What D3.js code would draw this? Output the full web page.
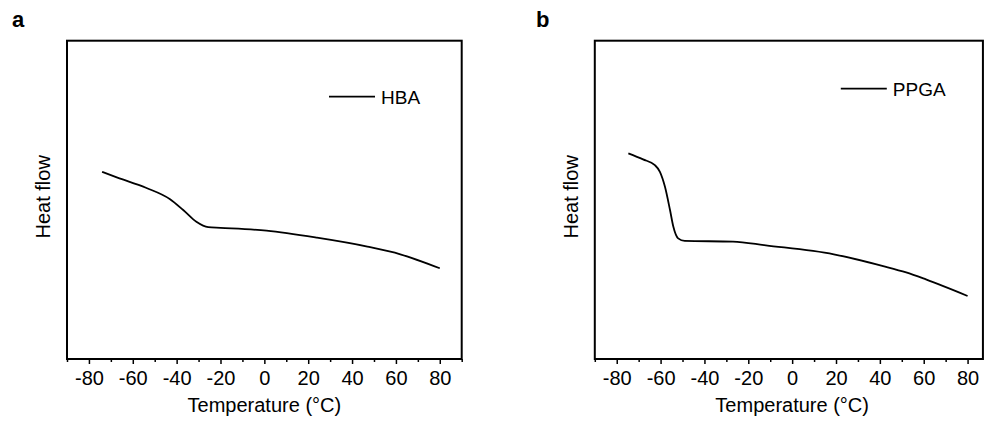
<!DOCTYPE html>
<html>
<head>
<meta charset="utf-8">
<script src="https://cdn.jsdelivr.net/npm/d3@7"></script>
<style>
  body { margin: 0; background: #fff; overflow: hidden; }
  svg { display: block; }
  svg text { font-family: "Liberation Sans", Arial, sans-serif; fill: #000; }
</style>
</head>
<body>
<div class="chart"></div>
<script>
// DSC traces (heat flow in arbitrary units)
var tempHBA = [-74, -67, -54, -43, -37, -31, -25.6, -20, 1, 24, 47, 62, 80];
var heatHBA = [58.8, 57.0, 53.8, 50.2, 46.8, 43.1, 41.4, 41.2, 40.3, 38.1, 35.3, 32.9, 28.5];

var tempPPGA = [-74.7, -68, -62.6, -60.3, -58, -55.7, -54.2, -52, -49, -27, -12, 19, 41.5, 52, 61, 80];
var heatPPGA = [64.6, 62.7, 60.9, 58.8, 54.1, 46.8, 41.6, 37.9, 37.1, 36.9, 35.7, 32.9, 29.2, 27.2, 25.0, 19.8];

var xTicks = [-80, -60, -40, -20, 0, 20, 40, 60, 80];
var xMinorTicks = [-90, -70, -50, -30, -10, 10, 30, 50, 70, 90];

var svg = d3.select(".chart")
  .append("svg")
  .attr("width", 984)
  .attr("height", 421);

// px per degree, same in both panels
var pxPerDeg = 2.1928, plotH = 318.3, plotTop = 40.7;

function drawPanel(left, xMax, letter, letterX, temps, heats, name, legX, legY) {
  var plotW = (xMax + 90) * pxPerDeg;
  var g = svg.append("g")
    .attr("transform", `translate(${left}, ${plotTop})`);

  var x = d3.scaleLinear().domain([-90, xMax]).range([0, plotW]);
  var y = d3.scaleLinear().domain([0, 100]).range([plotH, 0]);

  // minor ticks first, then the labelled ones
  g.append("g")
    .attr("transform", `translate(0, ${plotH})`)
    .call(d3.axisBottom(x).tickValues(xMinorTicks.filter(v => v <= xMax)).tickSize(3).tickFormat(""))
    .call(a => a.select(".domain").remove())
    .selectAll("line").attr("stroke-width", 1.5);

  var xAxis = g.append("g")
    .attr("transform", `translate(0, ${plotH})`)
    .call(d3.axisBottom(x).tickValues(xTicks).tickSize(5).tickPadding(7).tickFormat(d => String(d)));
  xAxis.select(".domain").remove();
  xAxis.selectAll("line").attr("stroke-width", 1.5);
  xAxis.selectAll("text")
    .style("font-family", "'Liberation Sans', Arial, sans-serif")
    .attr("font-size", 20)
    .attr("fill", "#000");

  // frame
  g.append("rect")
    .attr("width", plotW)
    .attr("height", plotH)
    .attr("fill", "none")
    .attr("stroke", "#000")
    .attr("stroke-width", 2);

  var pts = temps.map((t, i) => [t, heats[i]]);
  var line = d3.line()
    .x(d => x(d[0]))
    .y(d => y(d[1]))
    .curve(d3.curveMonotoneX);

  g.append("path")
    .datum(pts)
    .attr("d", line)
    .attr("fill", "none")
    .attr("stroke", "#000")
    .attr("stroke-width", 1.8);

  // legend
  g.append("line")
    .attr("x1", legX).attr("x2", legX + 46)
    .attr("y1", legY).attr("y2", legY)
    .attr("stroke", "#000").attr("stroke-width", 1.8);
  g.append("text")
    .attr("x", legX + 52)
    .attr("y", legY + 7)
    .attr("font-size", 19)
    .text(name);

  // axis titles
  g.append("text")
    .attr("x", x(0))
    .attr("y", 412.3 - plotTop)
    .attr("text-anchor", "middle")
    .attr("font-size", 20)
    .text("Temperature (\u00B0C)");

  g.append("text")
    .attr("transform", `translate(${-17}, ${plotH / 2 - 3}) rotate(-90)`)
    .attr("text-anchor", "middle")
    .attr("font-size", 20)
    .text("Heat flow");

  // panel letter
  svg.append("text")
    .attr("x", letterX)
    .attr("y", 26.5)
    .attr("font-size", 22)
    .attr("font-weight", "bold")
    .text(letter);
}

drawPanel(67, 90, "a", 12, tempHBA, heatHBA, "HBA", 262, 56);
drawPanel(594.8, 87, "b", 536, tempPPGA, heatPPGA, "PPGA", 246, 48);
</script>
</body>
</html>
